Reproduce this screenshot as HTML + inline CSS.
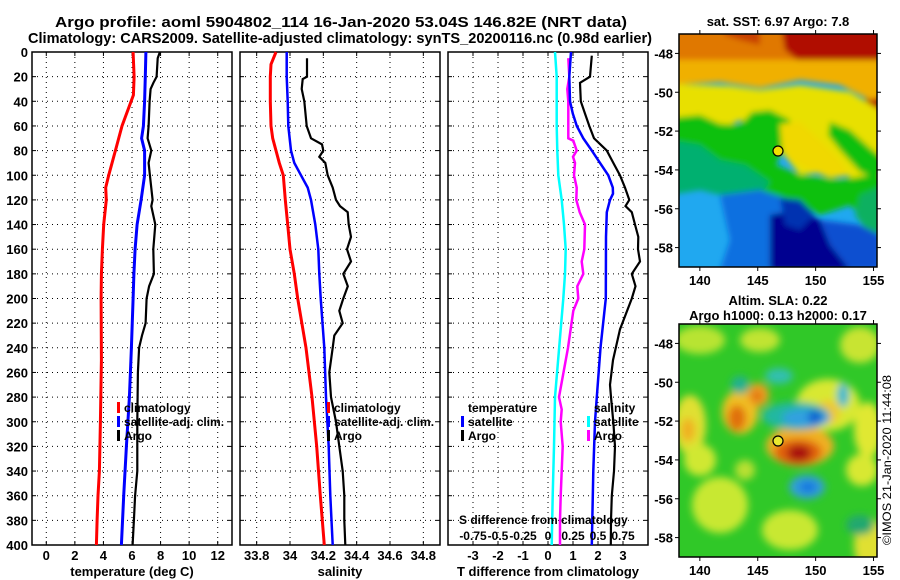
<!DOCTYPE html>
<html><head><meta charset="utf-8"><style>
html,body{margin:0;padding:0;background:#fff}
svg{display:block}
text{font-family:"Liberation Sans",Arial,sans-serif;font-weight:bold;fill:#000}
</style></head><body>
<svg id="chart" width="900" height="580" viewBox="0 0 900 580" xmlns="http://www.w3.org/2000/svg">
<defs>
<filter id="blur3" x="-20%" y="-20%" width="140%" height="140%"><feGaussianBlur stdDeviation="3"/></filter>
<filter id="blur4" x="-30%" y="-30%" width="160%" height="160%"><feGaussianBlur stdDeviation="4"/></filter>
<clipPath id="clipTop"><rect x="679" y="34" width="198" height="233"/></clipPath>
<clipPath id="clipBot"><rect x="679" y="324" width="198" height="233"/></clipPath>
</defs>
<text x="55" y="27" font-size="15" textLength="572" lengthAdjust="spacingAndGlyphs">Argo profile: aoml 5904802_114 16-Jan-2020 53.04S 146.82E (NRT data)</text>
<text x="28" y="43" font-size="15" textLength="624" lengthAdjust="spacingAndGlyphs">Climatology: CARS2009. Satellite-adjusted climatology: synTS_20200116.nc (0.98d earlier)</text>
<g id="panels"></g>
<!-- SST map -->
<g>
<text x="778" y="26" font-size="13" text-anchor="middle">sat. SST: 6.97 Argo: 7.8</text>
<g clip-path="url(#clipTop)">
<rect x="679" y="34" width="198" height="233" fill="#20a8f0"/>
<g filter="url(#blur3)">
<rect x="670" y="20" width="220" height="55" fill="#e07800"/>
<polygon points="780,20 890,20 890,120 870,115 860,80 840,75 820,70 800,62 785,50" fill="#b01000"/>
<polygon points="720,20 760,20 760,45 740,40 725,35" fill="#c84000"/>
<polygon points="670,60 890,60 890,95 870,100 850,90 840,85 800,80 760,88 720,82 670,85" fill="#f0b000"/>
<polygon points="670,84 730,86 760,90 800,85 850,92 880,110 890,150 880,190 860,185 840,170 800,175 780,150 760,130 740,120 720,130 680,130 670,130" fill="#e8e000"/>
<polygon points="670,118 700,115 720,124 740,125 752,112 770,110 790,120 790,135 776,165 800,175 840,180 870,175 890,180 890,225 870,225 850,205 820,215 790,200 770,195 740,180 720,170 700,160 670,165" fill="#10c010"/>
<polygon points="670,140 700,145 720,160 745,165 770,182 760,195 740,200 700,190 670,195" fill="#00b070"/>
<polygon points="830,122 850,130 870,148 885,160 880,180 860,172 840,150 828,135" fill="#10c010"/>
<polygon points="780,124 800,122 820,140 840,160 850,175 830,178 810,170 790,160 782,150" fill="#f0d800"/>
<polygon points="860,195 885,185 890,230 870,235 855,215" fill="#10b060"/>
<polygon points="720,195 760,190 790,200 810,220 800,270 720,270 730,240" fill="#1070e0"/>
<polygon points="770,215 800,210 830,225 850,245 860,270 770,270" fill="#000090"/>
<polygon points="780,198 800,200 815,215 800,230 785,225" fill="#0030b0"/>
<polygon points="820,220 860,225 880,235 880,270 850,270 830,245" fill="#1050d0"/>
</g>
</g>
<rect x="679" y="34" width="198" height="233" fill="none" stroke="#000" stroke-width="1.5"/>
<circle cx="778" cy="151" r="5" fill="#f0e000" stroke="#000" stroke-width="1.2"/>
</g>
<!-- SLA map -->
<g>
<text x="778" y="305" font-size="13" text-anchor="middle">Altim. SLA: 0.22</text>
<text x="778" y="320" font-size="13" text-anchor="middle">Argo h1000: 0.13 h2000: 0.17</text>
<g clip-path="url(#clipBot)">
<rect x="679" y="324" width="198" height="233" fill="#30c828"/>
<g filter="url(#blur4)">
<ellipse cx="700" cy="340" rx="25" ry="14" fill="#b8e430"/>
<ellipse cx="760" cy="340" rx="20" ry="12" fill="#c0e430"/>
<ellipse cx="860" cy="345" rx="20" ry="18" fill="#c8e430"/>
<ellipse cx="690" cy="425" rx="16" ry="30" fill="#e0e030"/>
<ellipse cx="688" cy="430" rx="7" ry="12" fill="#f0b020"/>
<ellipse cx="828" cy="405" rx="32" ry="26" fill="#d8e830"/>
<ellipse cx="828" cy="412" rx="12" ry="12" fill="#f0c830"/>
<ellipse cx="868" cy="430" rx="14" ry="28" fill="#e0e830"/>
<ellipse cx="862" cy="470" rx="16" ry="16" fill="#d8e830"/>
<ellipse cx="870" cy="545" rx="16" ry="26" fill="#e0e030"/>
<ellipse cx="720" cy="505" rx="28" ry="28" fill="#c8e830"/>
<ellipse cx="700" cy="460" rx="16" ry="16" fill="#d0e830"/>
<ellipse cx="790" cy="530" rx="28" ry="20" fill="#c8e830"/>
<ellipse cx="745" cy="470" rx="10" ry="10" fill="#b8e030"/>
<ellipse cx="740" cy="412" rx="18" ry="22" fill="#f0c020"/>
<ellipse cx="737" cy="418" rx="9" ry="13" fill="#e07010"/>
<ellipse cx="758" cy="395" rx="11" ry="12" fill="#f0a020"/>
<ellipse cx="757" cy="396" rx="5" ry="6" fill="#e07010"/>
<ellipse cx="800" cy="446" rx="34" ry="20" fill="#f0b020"/>
<ellipse cx="798" cy="452" rx="24" ry="13" fill="#e06010"/>
<ellipse cx="799" cy="453" rx="12" ry="8" fill="#a81008"/>
<ellipse cx="796" cy="416" rx="34" ry="14" fill="#20b8a0"/>
<ellipse cx="806" cy="418" rx="24" ry="9" fill="#30a0e0"/>
<ellipse cx="815" cy="417" rx="7" ry="7" fill="#1060d0"/>
<ellipse cx="779" cy="376" rx="14" ry="8" fill="#30c0b0"/>
<ellipse cx="807" cy="487" rx="18" ry="12" fill="#30a0d8"/>
<ellipse cx="808" cy="487" rx="9" ry="6" fill="#1878e0"/>
<ellipse cx="843" cy="395" rx="6" ry="12" fill="#30b8d0"/>
<ellipse cx="740" cy="385" rx="9" ry="9" fill="#20b090"/>
<ellipse cx="860" cy="525" rx="14" ry="10" fill="#20a870"/>
</g>
</g>
<rect x="679" y="324" width="198" height="233" fill="none" stroke="#000" stroke-width="1.5"/>
<circle cx="778" cy="441" r="5" fill="#e8e830" stroke="#000" stroke-width="1.2"/>
</g>
<text transform="translate(891,545) rotate(-90)" font-size="12" style="font-weight:normal" textLength="170" lengthAdjust="spacingAndGlyphs">©IMOS 21-Jan-2020 11:44:08</text>
<g id="maps-axes"></g>
</svg>
<script>
// ---------- DATA ----------
const depthTicks = [0,20,40,60,80,100,120,140,160,180,200,220,240,260,280,300,320,340,360,380,400];
const tempTicks = [0,2,4,6,8,10,12];
const salTicks = [33.8,34,34.2,34.4,34.6,34.8];
const salTickLabels = ["33.8","34","34.2","34.4","34.6","34.8"];
const tdiffTicks = [-3,-2,-1,0,1,2,3];
const sdiffTicks = [-0.75,-0.5,-0.25,0,0.25,0.5,0.75];
const sdiffTickLabels = ["-0.75","-0.5","-0.25","0","0.25","0.5","0.75"];
const lonTicks = [140,145,150,155];
const latTicks = [-48,-50,-52,-54,-56,-58];

const tClimDepth = [0,20,35,40,60,80,100,110,120,140,160,180,200,250,300,340,360,380,400];
const tClimVal   = [6.08,6.15,6.1,5.94,5.3,4.84,4.37,4.16,4.2,4.02,3.93,3.86,3.84,3.86,3.79,3.72,3.62,3.56,3.51];
const tSatDepth = [0,20,40,60,70,80,100,120,140,160,180,200,240,280,320,360,400];
const tSatVal   = [6.97,6.93,6.88,6.8,6.67,6.88,6.88,6.64,6.36,6.22,6.13,6.08,5.96,5.82,5.61,5.42,5.26];
const tArgoDepth = [0,5,20,25,30,40,60,70,80,90,100,120,125,140,160,180,190,200,220,230,240,260,300,340,360,380,400];
const tArgoVal   = [7.95,7.8,7.72,7.5,7.3,7.23,7.16,7.09,7.35,7.16,7.25,7.44,7.35,7.63,7.49,7.53,7.2,7.02,6.95,6.7,6.5,6.41,6.37,6.37,6.22,6.13,6.04];

const sClimDepth = [0,10,20,40,60,70,80,90,100,120,140,160,180,200,240,280,320,360,400];
const sClimVal   = [33.916,33.886,33.882,33.882,33.886,33.896,33.916,33.936,33.96,33.972,33.986,34.0,34.026,34.046,34.096,34.132,34.16,34.182,34.206];
const sSatDepth = [0,20,40,60,80,90,100,110,120,140,160,180,200,240,280,320,360,400];
const sSatVal   = [33.98,33.98,33.986,33.99,34.006,34.026,34.066,34.106,34.126,34.152,34.17,34.176,34.184,34.206,34.216,34.232,34.242,34.256];
const sArgoDepth = [5,20,22,30,40,60,70,75,80,85,90,100,110,120,125,130,140,150,160,170,180,190,200,210,220,230,240,260,280,300,320,340,360,380,400];
const sArgoVal   = [34.102,34.102,34.076,34.07,34.086,34.1,34.126,34.192,34.2,34.176,34.212,34.226,34.256,34.276,34.3,34.346,34.352,34.366,34.342,34.366,34.32,34.347,34.32,34.296,34.316,34.266,34.256,34.236,34.246,34.276,34.296,34.316,34.326,34.326,34.332];

const dSSatDepth = [0,20,60,80,100,120,140,160,180,200,280,320,360,400];
const dSSatVal   = [0.07,0.087,0.087,0.093,0.103,0.137,0.16,0.177,0.17,0.153,0.07,0.06,0.047,0.037];
const dSArgoDepth = [5,20,30,40,70,72,80,85,90,100,110,120,130,140,160,170,180,190,200,210,240,280,290,300,320,340,360,380,400];
const dSArgoVal   = [0.203,0.213,0.193,0.203,0.203,0.253,0.287,0.25,0.27,0.26,0.287,0.283,0.317,0.37,0.363,0.337,0.353,0.293,0.303,0.253,0.2,0.11,0.137,0.127,0.147,0.137,0.127,0.12,0.12];
const dTSatDepth = [0,20,40,50,60,70,80,90,100,110,115,120,130,150,200,240,280,300,340,400];
const dTSatVal   = [0.92,0.85,0.88,0.99,1.15,1.41,1.75,2.08,2.41,2.59,2.6,2.48,2.35,2.32,2.31,2.1,1.95,1.88,1.81,1.75];
const dTArgoDepth = [3,20,25,40,50,60,70,80,90,100,110,120,125,130,140,150,160,170,180,190,200,225,250,270,280,300,320,340,360,380,400];
const dTArgoVal   = [1.75,1.68,1.28,1.31,1.48,1.65,1.84,2.35,2.61,2.88,3.08,3.25,3.1,3.35,3.48,3.61,3.6,3.68,3.35,3.5,3.35,2.88,2.6,2.48,2.52,2.61,2.68,2.64,2.55,2.52,2.51];

// ---------- HELPERS ----------
const NS = "http://www.w3.org/2000/svg";
function mk(tag, attrs, parent){ const e=document.createElementNS(NS,tag); for(const k in attrs) e.setAttribute(k,attrs[k]); parent.appendChild(e); return e; }
const Y0=52, Y1=545;
function yDepth(d){ return Y0 + (d/400)*(Y1-Y0); }
function lin(d0,d1,r0,r1){ return v => r0 + (v-d0)/(d1-d0)*(r1-r0); }

const panelsG = document.getElementById('panels');
const P1={x0:32,x1:232}, P2={x0:240,x1:440}, P3={x0:448,x1:648};
const xT = lin(-1,13,P1.x0,P1.x1);
const xS = lin(33.7,34.9,P2.x0,P2.x1);
const xDT = lin(-4,4,P3.x0,P3.x1);
const xDS = lin(-1,1,P3.x0,P3.x1);

function panelFrame(P, name, xticks, xfn, labels, axisTitle){
  const g = mk('g',{},panelsG);
  
  
  depthTicks.forEach(d=>{
    if(d===0||d===400) return;
    const gl = mk('line',{x1:P.x0,x2:P.x1,y1:yDepth(d),y2:yDepth(d),stroke:'#000','stroke-width':1,'stroke-dasharray':'1 4'},g);
    
    
    mk('line',{x1:P.x0,x2:P.x0+4,y1:yDepth(d),y2:yDepth(d),stroke:'#000'},g);
    mk('line',{x1:P.x1,x2:P.x1-4,y1:yDepth(d),y2:yDepth(d),stroke:'#000'},g);
  });
  xticks.forEach((v,i)=>{
    const x=xfn(v);
    const gl = mk('line',{x1:x,x2:x,y1:Y0,y2:Y1,stroke:'#000','stroke-width':1,'stroke-dasharray':'1 4'},g);
    
    
    mk('line',{x1:x,x2:x,y1:Y0,y2:Y0+4,stroke:'#000'},g);
    mk('line',{x1:x,x2:x,y1:Y1,y2:Y1-4,stroke:'#000'},g);
    const t = mk('text',{x:x,y:560,'font-size':13,'text-anchor':'middle'},g);
    t.textContent = labels[i];
    
    
  });
  const fr = mk('rect',{x:P.x0,y:Y0,width:P.x1-P.x0,height:Y1-Y0,fill:'none',stroke:'#000','stroke-width':1.5},g);
  
  
  const at = mk('text',{x:(P.x0+P.x1)/2,y:576,'font-size':13,'text-anchor':'middle'},g);
  at.textContent = axisTitle;
  
  
  return g;
}
function series(g, depths, vals, xfn, color, w, name){
  const pts = depths.map((d,i)=> xfn(vals[i]).toFixed(1)+','+yDepth(d).toFixed(1)).join(' ');
  const p = mk('polyline',{points:pts,fill:'none',stroke:color,'stroke-width':w,'stroke-linejoin':'miter'},g);
  
  
}
function legendRow(g, x, y, color, label){
  mk('rect',{x:x,y:y-9,width:3,height:11,fill:color},g);
  const t = mk('text',{x:x+7,y:y+1,'font-size':12},g);
  t.textContent = label;
  
  
}

const g1 = panelFrame(P1,'temperature-panel',tempTicks,xT,tempTicks.map(String),'temperature (deg C)');
depthTicks.forEach(d=>{
  const t = mk('text',{x:28,y:yDepth(d)+5,'font-size':13,'text-anchor':'end'},g1);
  t.textContent = d;
  
  
});
series(g1,tClimDepth,tClimVal,xT,'#ff0000',3,'temperature-climatology-line');
series(g1,tSatDepth,tSatVal,xT,'#0000ff',3,'temperature-satellite-line');
series(g1,tArgoDepth,tArgoVal,xT,'#000',2.2,'temperature-argo-line');
legendRow(g1,117,411,'#ff0000','climatology');
legendRow(g1,117,425,'#0000ff','satellite-adj. clim.');
legendRow(g1,117,439,'#000','Argo');

const g2 = panelFrame(P2,'salinity-panel',salTicks,xS,salTickLabels,'salinity');
series(g2,sClimDepth,sClimVal,xS,'#ff0000',3,'salinity-climatology-line');
series(g2,sSatDepth,sSatVal,xS,'#0000ff',2.5,'salinity-satellite-line');
series(g2,sArgoDepth,sArgoVal,xS,'#000',2.2,'salinity-argo-line');
legendRow(g2,327,411,'#ff0000','climatology');
legendRow(g2,327,425,'#0000ff','satellite-adj. clim.');
legendRow(g2,327,439,'#000','Argo');

const g3 = panelFrame(P3,'difference-panel',tdiffTicks,xDT,tdiffTicks.map(String),'T difference from climatology');
series(g3,dSSatDepth,dSSatVal,xDS,'#00ffff',2.5,'salinity-diff-satellite-line');
series(g3,dSArgoDepth,dSArgoVal,xDS,'#ff00ff',2.5,'salinity-diff-argo-line');
series(g3,dTSatDepth,dTSatVal,xDT,'#0000ff',2.5,'temperature-diff-satellite-line');
series(g3,dTArgoDepth,dTArgoVal,xDT,'#000',2.2,'temperature-diff-argo-line');
{
  const t=mk('text',{x:468,y:412,'font-size':12},g3); t.textContent='temperature';
  
  
  const s=mk('text',{x:594,y:412,'font-size':12},g3); s.textContent='salinity';
  
  
}
legendRow(g3,461,425,'#0000ff','satellite');
legendRow(g3,461,439,'#000','Argo');
legendRow(g3,587,425,'#00ffff','satellite');
legendRow(g3,587,439,'#ff00ff','Argo');
{
  const t=mk('text',{x:459,y:524,'font-size':12},g3); t.textContent='S difference from climatology';
  
  
  sdiffTicks.forEach((v,i)=>{
    const l=mk('text',{x:xDS(v),y:540,'font-size':12,'text-anchor':'middle'},g3);
    l.textContent=sdiffTickLabels[i];
    
    
  });
}

const mapsG = document.getElementById('maps-axes');
const xLon = lin(138.2,155.3,679,877);
function mapAxes(top){
  const yLat = lin(-47,-59,top,top+233);
  lonTicks.forEach(v=>{
    const x=xLon(v);
    mk('line',{x1:x,x2:x,y1:top,y2:top-4,stroke:'#000'},mapsG);
    mk('line',{x1:x,x2:x,y1:top+233,y2:top+237,stroke:'#000'},mapsG);
    const t=mk('text',{x:x,y:top+251,'font-size':13,'text-anchor':'middle'},mapsG);
    t.textContent=v;
    
    
  });
  latTicks.forEach(v=>{
    const y=yLat(v);
    mk('line',{x1:679,x2:675,y1:y,y2:y,stroke:'#000'},mapsG);
    mk('line',{x1:877,x2:881,y1:y,y2:y,stroke:'#000'},mapsG);
    const t=mk('text',{x:673,y:y+5,'font-size':13,'text-anchor':'end'},mapsG);
    t.textContent=v;
    
    
  });
}
mapAxes(34);
mapAxes(324);
</script>
</body></html>
